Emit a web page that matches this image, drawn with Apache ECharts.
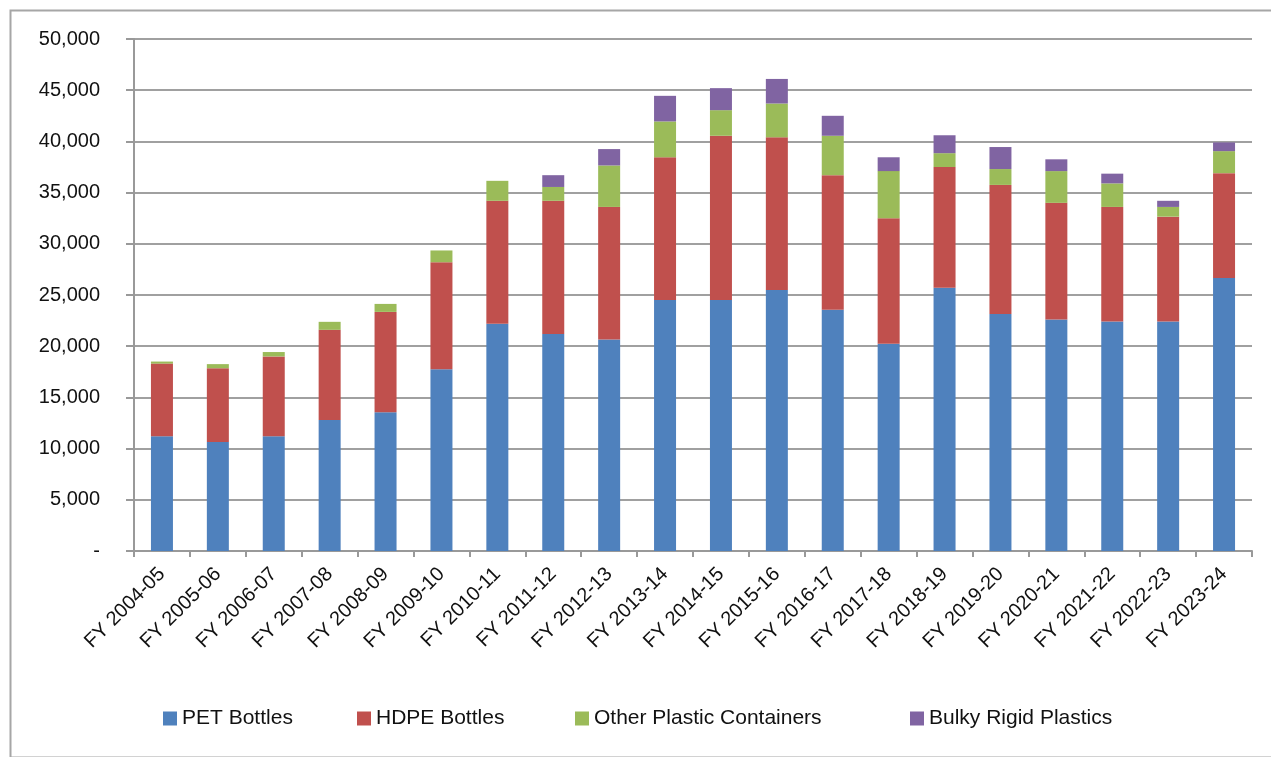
<!DOCTYPE html>
<html>
<head>
<meta charset="utf-8">
<script src="https://cdn.jsdelivr.net/npm/echarts@6/dist/echarts.min.js"></script>
<style>
html, body { margin: 0; padding: 0; background: #fff; }
#chart { width: 1271px; height: 757px; }
</style>
</head>
<body>
<div id="chart"></div>
<script>
const years = ['FY 2004-05', 'FY 2005-06', 'FY 2006-07', 'FY 2007-08', 'FY 2008-09', 'FY 2009-10', 'FY 2010-11',
    'FY 2011-12', 'FY 2012-13', 'FY 2013-14', 'FY 2014-15', 'FY 2015-16', 'FY 2016-17', 'FY 2017-18',
    'FY 2018-19', 'FY 2019-20', 'FY 2020-21', 'FY 2021-22', 'FY 2022-23', 'FY 2023-24'];
const petBottles = [11200, 10650, 11200, 12800, 13550, 17750, 22200, 21200, 20650, 24500,
    24500, 25500, 23550, 20250, 25700, 23150, 22600, 22400, 22400, 26650];
const hdpeBottles = [7100, 7200, 7800, 8800, 9800, 10450, 12000, 13000, 12950, 13950,
    16050, 14900, 13150, 12250, 11800, 12600, 11400, 11200, 10250, 10250];
const otherContainers = [200, 400, 430, 780, 780, 1150, 1950, 1350, 4050, 3500,
    2500, 3300, 3850, 4600, 1350, 1550, 3100, 2300, 950, 2150];
const bulkyRigid = [0, 0, 0, 0, 0, 0, 0, 1150, 1600, 2500,
    2150, 2400, 1950, 1350, 1750, 2150, 1150, 950, 600, 850];
const yTicks = { min: 0, max: 50000, interval: 5000 };

const seriesNames = ['PET Bottles', 'HDPE Bottles', 'Other Plastic Containers', 'Bulky Rigid Plastics'];
const seriesColors = ['#4F81BD', '#C0504D', '#9BBB59', '#8064A2'];
const seriesData = [petBottles, hdpeBottles, otherContainers, bulkyRigid];

const chart = echarts.init(document.getElementById('chart'));
const font = 'Liberation Sans, Arial, sans-serif';
const legendLeft = [158, 352, 570, 905];

const option = {
    backgroundColor: '#fff',
    animation: false,
    textStyle: { fontFamily: font },
    graphic: [{
        type: 'rect',
        left: 8, top: 8,
        shape: { width: 1275, height: 747 },
        style: { fill: 'none', stroke: '#a6a6a6', lineWidth: 2 }
    }],
    grid: { left: 134, right: 19, top: 39, bottom: 206 },
    legend: seriesNames.map((name, i) => ({
        data: [name],
        left: legendLeft[i],
        top: 703,
        itemWidth: 14,
        itemHeight: 14,
        itemGap: 6,
        icon: 'rect',
        textStyle: { fontSize: 21, color: '#111', fontFamily: font }
    })),
    xAxis: {
        type: 'category',
        data: years,
        axisLine: { lineStyle: { color: '#999', width: 2 } },
        axisTick: { show: true, length: 6, lineStyle: { color: '#999', width: 2 } },
        axisLabel: { rotate: 45, fontSize: 20, color: '#111', margin: 20, interval: 0 }
    },
    yAxis: {
        type: 'value',
        min: yTicks.min,
        max: yTicks.max,
        interval: yTicks.interval,
        axisLine: { show: true, lineStyle: { color: '#999', width: 2 } },
        axisTick: { show: true, length: 8, lineStyle: { color: '#999', width: 2 } },
        splitLine: { lineStyle: { color: '#a0a0a0', width: 2 } },
        axisLabel: {
            fontSize: 20, color: '#111', margin: 34,
            formatter: v => v === 0 ? '-' : v.toLocaleString('en-US')
        }
    },
    series: seriesNames.map((name, i) => ({
        name: name,
        type: 'bar',
        stack: 'total',
        barWidth: 22,
        itemStyle: { color: seriesColors[i] },
        data: seriesData[i]
    }))
};

chart.setOption(option);
</script>
</body>
</html>
